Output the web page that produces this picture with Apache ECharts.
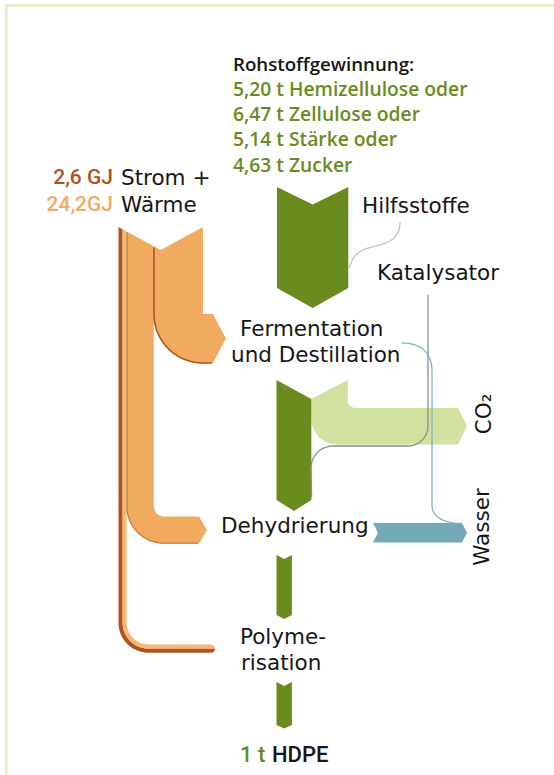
<!DOCTYPE html>
<html><head><meta charset="utf-8">
<script src="https://cdn.jsdelivr.net/npm/echarts@6/dist/echarts.min.js"></script>
<style>html,body{margin:0;padding:0;background:#fff}#c{width:554px;height:775px}</style>
</head><body><div id="c"></div>
<script>
// ---------- DATA ----------
const feedstockNames = ['Hemizellulose', 'Zellulose', 'Stärke', 'Zucker'];
const feedstockTonnes = [5.20, 6.47, 5.14, 4.63];
const energyNames = ['Strom +', 'Wärme'];
const energyGJ = [2.6, 24.2];
const energyLabels = ['2,6 GJ', '24,2GJ'];
const heatUseNames = ['Fermentation', 'Dehydrierung'];
const heatUseGJ = [15.6, 8.6];
const massFlowNames = ['Zucker', 'Ethanol', 'CO2', 'Ethylen', 'Wasser', 'HDPE'];
const massFlowTonnes = [4.63, 2.26, 2.37, 1.0, 1.26, 1.0];
const stepNames = [['Fermentation', 'und Destillation'], ['Dehydrierung'], ['Polyme-', 'risation']];
const inputNames = ['Hilfsstoffe', 'Katalysator'];
const outputNames = ['CO₂', 'Wasser'];
const productLabel = ['1 t', 'HDPE'];

// ---------- STYLE / LAYOUT ----------
const C = {
  green: '#6a8b1d', lightGreen: '#d0e1a0', orange: '#f0ab60', brown: '#b1511b',
  lightOrange: '#f4b877', teal: '#72a9b5', tealLine: '#7fb6c1', gray: '#8c8c8c',
  lightGray: '#bdbdbd', text: '#161616', frame: '#e8eed1'
};
const TPX = 15.4;   // axis units per tonne
const GPX = 3.15;   // axis units per GJ
const SANS = '"DejaVu Sans", sans-serif';
const HEAD = '"Open Sans", sans-serif';
const NUM = 'Roboto, sans-serif';

const shapes = [];
function poly(pts, fill) { shapes.push({ kind: 'polygon', pts, style: { fill } }); }
function pline(pts, stroke, lw) { shapes.push({ kind: 'polyline', pts, style: { stroke, lineWidth: lw, fill: null, lineJoin: 'round' } }); }
function label(x, y, text, style, rot) { shapes.push({ kind: 'text', pts: [[x, y]], text, style, rot }); }
function arc(cx, cy, r, a0, a1, n) {
  n = n || 24; const out = [];
  for (let i = 0; i <= n; i++) { const a = a0 + (a1 - a0) * i / n; out.push([cx + r * Math.cos(a), cy + r * Math.sin(a)]); }
  return out;
}
function bez(p0, p1, p2, p3, n) {
  n = n || 24; const out = [];
  for (let i = 0; i <= n; i++) {
    const t = i / n, u = 1 - t;
    out.push([u*u*u*p0[0] + 3*u*u*t*p1[0] + 3*u*t*t*p2[0] + t*t*t*p3[0],
              u*u*u*p0[1] + 3*u*u*t*p1[1] + 3*u*t*t*p2[1] + t*t*t*p3[1]]);
  }
  return out;
}
const PI = Math.PI;

// frame
poly([[5, 4], [554, 4], [554, 7], [5, 7]], C.frame);
poly([[5, 4], [7.7, 4], [7.7, 775], [5, 775]], C.frame);

// ---------- ENERGY (Strom + Wärme) ----------
const wStrom = energyGJ[0] * GPX;
const wHeatD = heatUseGJ[1] * GPX;
const wHeatF = heatUseGJ[0] * GPX;
const xS0 = 118.5, xS1 = xS0 + wStrom, xD0 = xS1, xD1 = xD0 + wHeatD, xF0 = xD1, xF1 = xF0 + wHeatF;
const eTop = 227, eApexY = 250, eApexX = (xS0 + xF1) / 2;
function ytop(x) { return x <= eApexX ? eTop + (eApexY - eTop) * (x - xS0) / (eApexX - xS0) : eTop + (eApexY - eTop) * (xF1 - x) / (xF1 - eApexX); }

// Strom band (two tone), ends at Polymerisation
(function () {
  const hw = wStrom / 2, xSm = xS0 + hw, yBot = 652.7, rO = 30, cxS = xS0 + rO, cyS = yBot - rO, yMid = yBot - hw, xEnd = 211;
  poly([[xS0, ytop(xS0)], [xSm, ytop(xSm)], ...arc(cxS, cyS, rO - hw, PI, PI / 2), ...arc(xEnd, yMid, hw, 0, PI / 2, 8), ...arc(cxS, cyS, rO, PI / 2, PI)], C.brown);
  poly([[xSm, ytop(xSm)], [xS1, ytop(xS1)], ...arc(cxS, cyS, rO - wStrom, PI, PI / 2), ...arc(xEnd, yMid, hw, -PI / 2, 0, 8), ...arc(cxS, cyS, rO - hw, PI / 2, PI)], C.lightOrange);
})();

// Wärme -> Dehydrierung
(function () {
  const w = wHeatD, yT = 516.4, yB = yT + w, ri = 10, cx = xD1 + ri, cy = yT - ri;
  poly([[xD0, ytop(xD0)], [xD1, ytop(xD1)], ...arc(cx, cy, ri, PI, PI / 2, 10), [199, yT], [207, yT + w / 2], [199, yB], ...arc(cx, cy, ri + w, PI / 2, PI)], C.orange);
  pline([[xD0 + 0.3, ytop(xD0) + 1], ...arc(cx, cy, ri + w - 0.3, PI, PI / 2), [198, yB - 0.3]], '#cf7a3c', 1.3);
})();

// Wärme -> Fermentation
(function () {
  const w = wHeatF, yK = 314;
  poly([[xF0, ytop(xF0)], [eApexX, eApexY], [xF1, ytop(xF1)], [xF1, yK], [xF1 + 10, yK], [xF1 + 23, yK + w / 2], [xF1 + 10, yK + w], ...arc(xF1, yK, w, PI / 2, PI, 32)], C.orange);
  pline([[xF0 + 0.2, ytop(xF0) + 1], ...arc(xF1, yK, w - 0.2, PI, PI / 2, 32), [xF1 + 9, yK + w - 0.2]], C.brown, 1.6);
})();

// ---------- MASS FLOWS ----------
const [wSugar, wEth, wCO2, wEthy, wWater, wHdpe] = massFlowTonnes.map(v => v * TPX);
const xG0 = 276.5;
// sugar arrow
(function () {
  const x0 = 277, x1 = x0 + wSugar, cx = (x0 + x1) / 2;
  poly([[x0, 187], [cx, 204.5], [x1, 187], [x1, 288], [cx, 308], [x0, 288]], C.green);
})();
// ethanol + CO2
const xe1 = xG0 + wEth, xc1 = xe1 + wCO2;
(function () {
  const yc0 = 408, yc1 = yc0 + wCO2, r1 = 8, R = 26;
  poly([[xe1, 399], [xc1, 380], ...arc(xc1 + r1, yc0 - r1, r1, PI, PI / 2, 8), [458, yc0], [467, (yc0 + yc1) / 2], [458, yc1], ...arc(xe1 + R, yc1 - R, R, PI / 2, PI)], C.lightGreen);
  poly([[xG0, 380], [xe1, 399], [xe1, 500], [(xG0 + xe1) / 2, 511], [xG0, 500]], C.green);
})();
// ethylene
(function () {
  const x1 = xG0 + wEthy, cx = (xG0 + x1) / 2;
  poly([[xG0, 555], [cx, 559], [x1, 555], [x1, 615], [cx, 619], [xG0, 615]], C.green);
})();
// HDPE
(function () {
  const x1 = xG0 + wHdpe, cx = (xG0 + x1) / 2;
  poly([[xG0, 682], [cx, 686], [x1, 682], [x1, 725], [cx, 728.5], [xG0, 725]], C.green);
})();
// water
(function () {
  const y0 = 523, y1 = y0 + wWater, ym = (y0 + y1) / 2;
  poly([[373, y0], [462, y0], [467, ym], [462, y1], [373, y1], [378, ym]], C.teal);
})();

// ---------- CONNECTOR LINES ----------
pline([...bez([349.5, 268], [352, 257], [358, 250], [372, 247]), ...bez([372, 247], [390, 243], [400, 238], [400, 222])], C.lightGray, 1.2);
pline([[428, 295], [428, 426], ...arc(408, 426, 20, 0, PI / 2, 12), [333, 446], ...arc(333, 468, 22, -PI / 2, -PI, 12), [xe1 + 0.3, 497]], C.gray, 1.3);
pline([...bez([402, 343], [420, 343], [432, 352], [432, 371]), [432, 505], ...bez([432, 505], [432, 518], [445, 523], [462, 523.5])], C.tealLine, 1.3);

// ---------- TEXT ----------
const fmt = v => v.toFixed(2).replace('.', ',');
const tBlack = (size, fam, wt) => ({ fill: C.text, fontSize: size, fontFamily: fam, fontWeight: wt || 'normal', align: 'left', verticalAlign: 'middle' });
label(233, 63, 'Rohstoffgewinnung:', tBlack(18.7, HEAD, 600));
feedstockNames.forEach((n, i) => {
  label(233, 88.5 + 25.2 * i, fmt(feedstockTonnes[i]) + ' t ' + n + (i < feedstockNames.length - 1 ? ' oder' : ''),
    { fill: C.green, fontSize: 19.3, fontFamily: HEAD, fontWeight: 600, align: 'left', verticalAlign: 'middle' });
});
label(113, 177, energyLabels[0], { fill: C.brown, fontSize: 21, fontFamily: NUM, fontWeight: 500, align: 'right', verticalAlign: 'middle' });
label(113, 204, energyLabels[1], { fill: C.orange, fontSize: 21, fontFamily: NUM, fontWeight: 500, align: 'right', verticalAlign: 'middle' });
label(121, 177, energyNames[0], tBlack(21.5, SANS));
label(121, 204, energyNames[1], tBlack(21.5, SANS));
label(362, 205.5, inputNames[0], tBlack(21.5, SANS));
label(377, 272.5, inputNames[1], tBlack(21.5, SANS));
label(240, 328, stepNames[0][0], tBlack(21.5, SANS));
label(231, 354, stepNames[0][1], tBlack(21.5, SANS));
label(221, 525.5, stepNames[1][0], tBlack(21.5, SANS));
label(240, 636, stepNames[2][0], tBlack(21.5, SANS));
label(241, 662, stepNames[2][1], tBlack(21.5, SANS));
label(240, 754, productLabel[0], { fill: C.green, fontSize: 22, fontFamily: NUM, fontWeight: 500, align: 'left', verticalAlign: 'middle' });
label(272, 754, productLabel[1], tBlack(22, NUM, 500));
label(483, 414, outputNames[0], { fill: C.text, fontSize: 21.5, fontFamily: SANS, align: 'center', verticalAlign: 'middle' }, PI / 2);
label(481, 527, outputNames[1], { fill: C.text, fontSize: 21.5, fontFamily: SANS, align: 'center', verticalAlign: 'middle' }, PI / 2);

// ---------- CHART ----------
const chart = echarts.init(document.getElementById('c'), null, { renderer: 'svg', width: 554, height: 775 });
chart.setOption({
  animation: false,
  backgroundColor: '#ffffff',
  grid: { left: 0, right: 0, top: 0, bottom: 0 },
  xAxis: { type: 'value', min: 0, max: 554, show: false },
  yAxis: { type: 'value', min: 0, max: 775, inverse: true, show: false },
  series: [{
    type: 'custom',
    silent: true,
    coordinateSystem: 'cartesian2d',
    encode: { x: 0, y: 1 },
    data: shapes.map((s, i) => [i, 0]),
    renderItem: function (params, api) {
      const s = shapes[params.dataIndex];
      const P = s.pts.map(p => api.coord(p));
      if (s.kind === 'polygon') return { type: 'polygon', shape: { points: P }, style: s.style };
      if (s.kind === 'polyline') return { type: 'polyline', shape: { points: P }, style: s.style };
      return { type: 'text', x: P[0][0], y: P[0][1], rotation: s.rot || 0, style: Object.assign({ text: s.text }, s.style) };
    }
  }]
});
</script></body></html>
